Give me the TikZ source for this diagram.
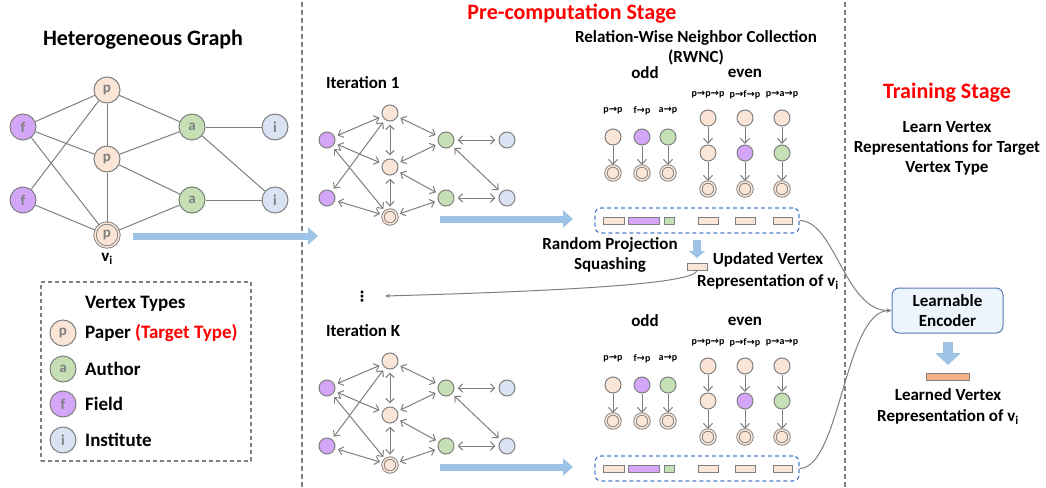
\documentclass[tikz,border=0pt]{standalone}
\usepackage{fontspec}
\setmainfont{Carlito}
\newfontfamily\symfont{DejaVu Sans}
\usetikzlibrary{arrows.meta}
\definecolor{pcol}{HTML}{FBE5D6}
\definecolor{acol}{HTML}{C5E0B4}
\definecolor{fcol}{HTML}{D4A6F8}
\definecolor{icol}{HTML}{DAE3F3}
\definecolor{gline}{HTML}{7F7F7F}
\definecolor{bluearr}{HTML}{9DC3E6}
\definecolor{boxblue}{HTML}{4E7FD0}
\definecolor{encfill}{HTML}{EDF5FC}
\definecolor{encdraw}{HTML}{5779B5}
\definecolor{orangec}{HTML}{F4B183}
\definecolor{tred}{HTML}{FF0000}
\newcommand\rarr{{\symfont\bfseries →}}
\newcommand\fs[2]{\fontsize{#1}{#2}\selectfont}
\tikzset{
  bignode/.style={circle,draw=gline,line width=1pt,minimum size=26pt,inner sep=0pt,text=gline,font=\bfseries\fs{15}{15}},
  bp/.style={bignode,fill=pcol},
  ba/.style={bignode,fill=acol},
  bf/.style={bignode,fill=fcol},
  bi/.style={bignode,fill=icol},
  bdbl/.style={double=pcol,double distance=1.5pt,line width=0.9pt,minimum size=24pt},
  smallnode/.style={circle,draw=gline,line width=1pt,minimum size=16pt,inner sep=0pt},
  sp/.style={smallnode,fill=pcol},
  sa/.style={smallnode,fill=acol},
  sf/.style={smallnode,fill=fcol},
  si/.style={smallnode,fill=icol},
  dbl/.style={double=pcol,double distance=1.5pt,line width=0.9pt,minimum size=14pt},
  gedge/.style={draw=gline,line width=1pt},
  biarr/.style={draw=gline,line width=1pt,{Straight Barb[length=4.5pt,width=8.5pt]}-{Straight Barb[length=4.5pt,width=8.5pt]},shorten <=3pt,shorten >=3pt},
  downarr/.style={draw=gline,line width=1pt,-{Straight Barb[length=5pt,width=9pt]},shorten >=0.5pt},
  bigblue/.style={draw=bluearr,line width=7pt,-{Triangle[length=10pt,width=17pt]}},
  vrect/.style={rectangle,draw=gline,line width=1pt,minimum height=7pt,inner sep=0pt},
  dbox/.style={rectangle,draw=boxblue,line width=1.2pt,dash pattern=on 4pt off 3pt,rounded corners=6pt,minimum width=204pt,minimum height=25pt,inner sep=0pt},
  encbox/.style={rectangle,draw=encdraw,fill=encfill,line width=1pt,rounded corners=7pt,minimum width=111pt,minimum height=45pt,align=center,font=\bfseries\fs{17}{20}},
  t17/.style={font=\bfseries\fs{17}{20},align=center,inner sep=0pt},
  t19/.style={font=\bfseries\fs{19}{22},inner sep=0pt,anchor=west},
  t22/.style={font=\bfseries\fs{22}{24},inner sep=0pt},
  lbl/.style={font=\bfseries\fs{10}{10},inner sep=0pt},
  sepline/.style={draw=gline,line width=1.5pt,dash pattern=on 5pt off 3pt},
  thinarr/.style={draw=gline,line width=1pt,-{Stealth[length=5pt,width=4pt]}},
}
\newcommand\itergraph[3]{%
  \begin{scope}[shift={(0,#2)}]
    \node[t17,anchor=west] (#1t) at (326,83) {#3};
    \node[sf] (#1f1) at (327,140) {};
    \node[sf] (#1f2) at (327,198) {};
    \node[sp] (#1p1) at (390,113) {};
    \node[sp] (#1p2) at (390,167) {};
    \node[sp,dbl] (#1p3) at (390,217) {};
    \node[sa] (#1a1) at (446,140) {};
    \node[sa] (#1a2) at (446,198) {};
    \node[si] (#1i1) at (507,140) {};
    \node[si] (#1i2) at (507,198) {};
    \coordinate (#1bs) at (440,219);
    \coordinate (#1be) at (573,219);
  \end{scope}
  \foreach \u/\v in {f1/p1,f1/p2,f1/p3,f2/p1,f2/p3,p1/p2,p2/p3,p1/a1,p2/a1,p2/a2,p3/a2,a1/i1,a1/i2,a2/i2}
    \draw[biarr] (#1\u) -- (#1\v);
  \draw[bigblue] (#1bs) -- (#1be);
}
\newcommand\rwnc[2]{%
  \begin{scope}[shift={(0,#2)}]
    \node[t17] (#1odd) at (645,73) {odd};
    \node[t17] (#1even) at (745,73) {even};
    \node[lbl] (#1l1) at (613,111) {p\rarr p};
    \node[lbl] (#1l2) at (642,111) {f\rarr p};
    \node[lbl] (#1l3) at (668,111) {a\rarr p};
    \node[lbl] (#1l4) at (708,95) {p\rarr p\rarr p};
    \node[lbl] (#1l5) at (745,95) {p\rarr f\rarr p};
    \node[lbl] (#1l6) at (782,95) {p\rarr a\rarr p};
    \node[sp] (#1o1a) at (613,137) {};
    \node[sp,dbl] (#1o1b) at (613,173) {};
    \node[sf] (#1o2a) at (642,137) {};
    \node[sp,dbl] (#1o2b) at (642,173) {};
    \node[sa] (#1o3a) at (668,137) {};
    \node[sp,dbl] (#1o3b) at (668,173) {};
    \node[sp] (#1e1a) at (708,118) {};
    \node[sp] (#1e1b) at (708,153) {};
    \node[sp,dbl] (#1e1c) at (708,189) {};
    \node[sp] (#1e2a) at (745,118) {};
    \node[sf] (#1e2b) at (745,153) {};
    \node[sp,dbl] (#1e2c) at (745,189) {};
    \node[sp] (#1e3a) at (782,118) {};
    \node[sa] (#1e3b) at (782,153) {};
    \node[sp,dbl] (#1e3c) at (782,189) {};
    \node[dbox] (#1box) at (697,220.5) {};
    \node[vrect,fill=pcol,minimum width=21pt] (#1r1) at (613.5,220.5) {};
    \node[vrect,fill=fcol,minimum width=31pt] (#1r2) at (643.5,220.5) {};
    \node[vrect,fill=acol,minimum width=10pt] (#1r3) at (669,220.5) {};
    \node[vrect,fill=pcol,minimum width=20pt] (#1r4) at (708,220.5) {};
    \node[vrect,fill=pcol,minimum width=20pt] (#1r5) at (745,220.5) {};
    \node[vrect,fill=pcol,minimum width=19pt] (#1r6) at (782.5,220.5) {};
  \end{scope}
  \foreach \u/\v in {o1a/o1b,o2a/o2b,o3a/o3b,e1a/e1b,e1b/e1c,e2a/e2b,e2b/e2c,e3a/e3b,e3b/e3c}
    \draw[downarr] (#1\u) -- (#1\v);
}
\begin{document}
\begin{tikzpicture}[x=1pt,y=-1pt]
\useasboundingbox (0,0) rectangle (1046,487);
% separators
\coordinate (s1t) at (302,2); \coordinate (s1b) at (302,487);
\coordinate (s2t) at (845,2); \coordinate (s2b) at (845,487);
\draw[sepline] (s1t) -- (s1b);
\draw[sepline] (s2t) -- (s2b);
% titles
\node[t22] (hgt) at (143,40) {Heterogeneous Graph};
\node[t22,text=tred] (pct) at (572,14) {Pre-computation Stage};
\node[t22,text=tred] (tst) at (947,93) {Training Stage};
\node[t17] (rwt) at (696,47.5) {Relation-Wise Neighbor Collection\\(RWNC)};
\node[t17] (lvt) at (947,148) {Learn Vertex\\Representations for Target\\Vertex Type};
% heterogeneous graph
\node[bf] (hf1) at (23,127) {f};
\node[bf] (hf2) at (23,200) {f};
\node[bp] (hp1) at (107,90) {p};
\node[bp] (hp2) at (107,159) {p};
\node[bp,bdbl] (hp3) at (107,235) {p};
\node[ba] (ha1) at (192,127) {a};
\node[ba] (ha2) at (192,200) {a};
\node[bi] (hi1) at (275,127) {i};
\node[bi] (hi2) at (275,200) {i};
\foreach \u/\v in {f1/p1,f1/p2,f1/p3,f2/p1,f2/p3,p1/p2,p2/p3,p1/a1,p2/a1,p2/a2,p3/a2,a1/i1,a1/i2,a2/i2}
  \draw[gedge] (h\u) -- (h\v);
\node[t17] (hvi) at (107,259) {v\textsubscript{i}};
\coordinate (hbs) at (133,236);
\coordinate (hbe) at (318,236);
\draw[bigblue] (hbs) -- (hbe);
% legend
\node[rectangle,draw=gline,line width=1.2pt,dash pattern=on 4pt off 3pt,minimum width=210pt,minimum height=179pt,inner sep=0pt] (leg) at (146,371.5) {};
\node[t19] (lgt) at (85,304) {Vertex Types};
\node[bp] (lgp) at (63,333) {p};
\node[t19] (lgpt) at (85,333) {Paper \textcolor{tred}{(Target Type)}};
\node[ba] (lga) at (63,369) {a};
\node[t19] (lgat) at (85,369) {Author};
\node[bf] (lgf) at (63,404) {f};
\node[t19] (lgft) at (85,404) {Field};
\node[bi] (lgi) at (63,440) {i};
\node[t19] (lgit) at (85,440) {Institute};
% iterations
\itergraph{ia}{0}{Iteration 1}
\itergraph{ik}{248}{Iteration K}
% rwnc
\rwnc{ta}{0}
\rwnc{tk}{248}
% random projection
\node[t17] (rpt) at (610,254.5) {Random Projection\\Squashing};
\coordinate (rps) at (697,240);
\coordinate (rpe) at (697,258);
\draw[draw=bluearr,line width=8pt,-{Triangle[length=7pt,width=16pt]}] (rps) -- (rpe);
\node[vrect,fill=pcol,minimum width=20pt] (upd) at (697,266.5) {};
\node[t17,font=\bfseries\fs{17}{22}] (updt) at (768,271) {Updated Vertex\\Representation of v\textsubscript{i}};
\node[font=\symfont\bfseries\fs{14}{14},inner sep=0pt] (dots) at (362,297) {⋮};
\coordinate (dotarr) at (385,296);
\draw[thinarr] (upd.south) .. controls (695,282) and (600,290) .. (dotarr);
% training
\node[encbox] (enc) at (947.5,310.5) {Learnable\\Encoder};
\draw[thinarr] (tabox.east) .. controls (835,221) and (845,311) .. (enc.west);
\draw[thinarr] (tkbox.east) .. controls (840,468) and (845,311) .. (enc.west);
\coordinate (eds) at (948,342);
\coordinate (ede) at (948,365);
\draw[draw=bluearr,line width=10pt,-{Triangle[length=12pt,width=25pt]}] (eds) -- (ede);
\node[vrect,fill=orangec,minimum width=43pt] (lrn) at (947.5,376.5) {};
\node[t17,font=\bfseries\fs{17}{21}] (lrnt) at (948,406.5) {Learned Vertex\\Representation of v\textsubscript{i}};
\end{tikzpicture}
\end{document}
